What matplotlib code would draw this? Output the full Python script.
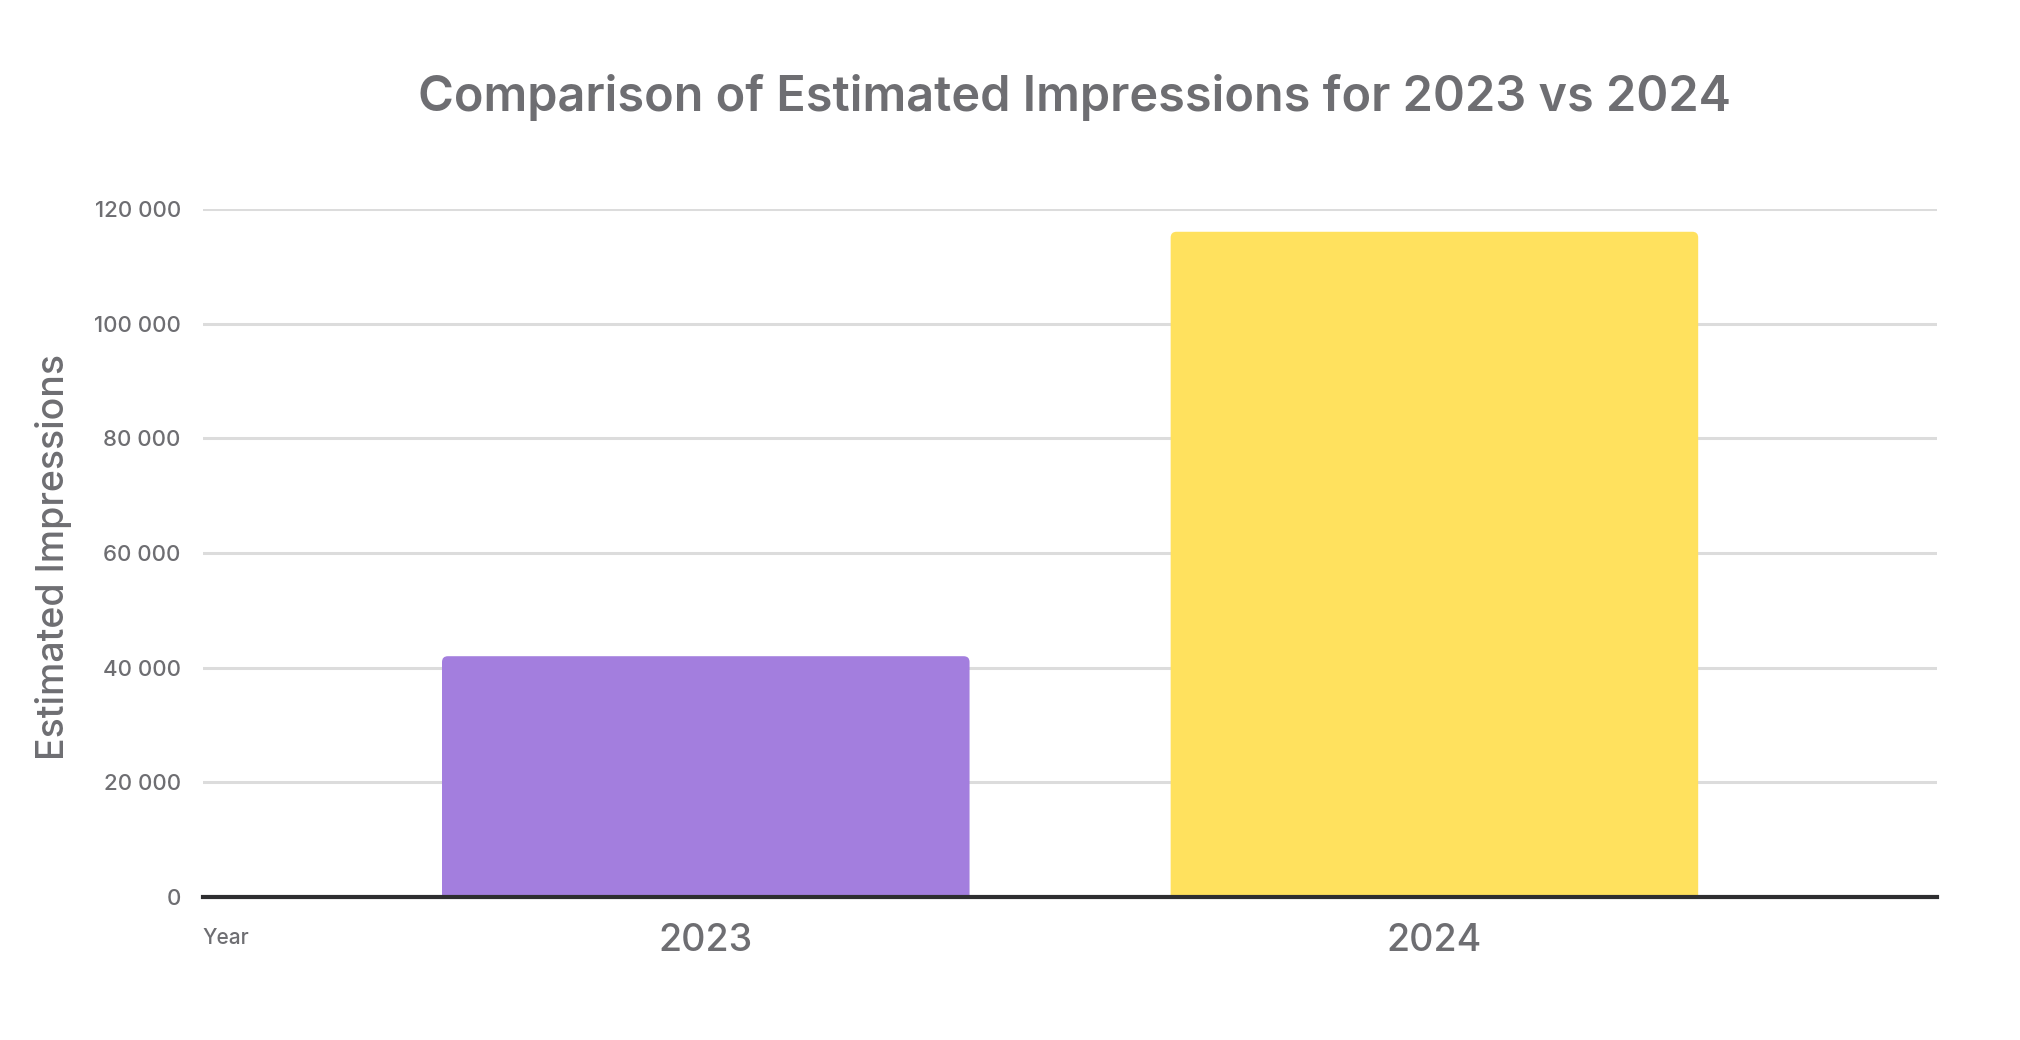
import matplotlib
matplotlib.use("Agg")
import matplotlib.pyplot as plt
from matplotlib.ticker import FuncFormatter
from matplotlib.patches import FancyBboxPatch

# data
years = ["2023", "2024"]
impressions = [42000, 116000]
bar_colors = ["#a37ede", "#ffe15e"]
y_ticks = [0, 20000, 40000, 60000, 80000, 100000, 120000]

plt.rcParams['font.family'] = ['Inter', 'DejaVu Sans']
grey = "#6e6e72"

fig = plt.figure(figsize=(20.2, 10.4), dpi=100)
ax = fig.add_axes([0.1005, 0.1374, 0.8585, 0.6618])

x = range(len(years))
bars = ax.bar(x, impressions, width=0.724, color=bar_colors, zorder=3)

ax.set_xlim(-0.69, 1.69)
ax.set_ylim(0, 120000)

# swap the plain bars for ones with slightly rounded corners
bbox = ax.get_window_extent()
aspect = (120000 / bbox.height) / (2.38 / bbox.width)
r = 0.008
for b in bars:
    bx, bw, bh = b.get_x(), b.get_width(), b.get_height()
    rp = FancyBboxPatch((bx, -r * aspect), bw, bh + r * aspect,
                        boxstyle=f"round,pad=0,rounding_size={r}",
                        mutation_aspect=aspect, facecolor=b.get_facecolor(),
                        edgecolor="none", zorder=3)
    ax.add_patch(rp)
    b.set_visible(False)

ax.set_yticks(y_ticks)
ax.yaxis.set_major_formatter(FuncFormatter(lambda v, p: f"{int(v):,}".replace(",", " ")))
ax.set_xticks(list(x))
ax.set_xticklabels(years, fontweight=500)
for t in ax.get_yticklabels():
    t.set_fontweight(500)

ax.grid(axis="y", color="#dcdcdc", linewidth=2.2, zorder=0)
ax.grid(axis="x", visible=False)
for s in ["top", "right", "left"]:
    ax.spines[s].set_visible(False)
ax.spines["bottom"].set_color("#2e2e30")
ax.spines["bottom"].set_linewidth(3)
ax.spines["bottom"].set_zorder(4)

ax.tick_params(axis="y", length=0, pad=16, labelsize=16, labelcolor=grey)
ax.tick_params(axis="x", length=0, pad=19, labelsize=27, labelcolor=grey)

fig.text(0.0267, 0.464, "Estimated Impressions", rotation=90, ha="center", va="center",
         fontsize=27, color=grey, fontweight=500)
fig.text(0.1, 0.098, "Year", ha="left", va="center", fontsize=15, color=grey, fontweight=500)
fig.text(0.532, 0.906, "Comparison of Estimated Impressions for 2023 vs 2024",
         ha="center", va="center", fontsize=35, color=grey, fontweight=600)

fig.savefig("out.png", dpi=100, facecolor="white")
